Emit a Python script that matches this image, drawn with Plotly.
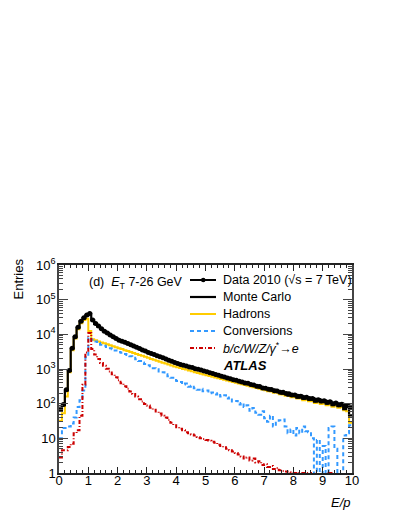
import numpy as np
import plotly.graph_objects as go

# ---------------- data (entries per 0.1 bin of E/p, 0..10) ----------------
BIN_WIDTH = 0.1
N_BINS = 100

data_2010 = [
    70, 95, 250, 900, 4000, 8500, 16000, 24000, 30000, 36000,
    40000, 26000, 20500, 17400, 14500, 12300, 11000, 9550, 8500, 7600,
    6800, 6300, 5900, 5400, 5000, 4600, 4250, 3900, 3550, 3300,
    3000, 2800, 2600, 2400, 2250, 2100, 1950, 1780, 1660, 1550,
    1450, 1350, 1290, 1230, 1150, 1100, 1020, 980, 930, 870,
    830, 780, 740, 690, 660, 620, 590, 550, 525, 490,
    475, 440, 425, 395, 385, 355, 345, 320, 315, 285,
    280, 260, 255, 235, 232, 215, 212, 195, 193, 178,
    178, 165, 165, 150, 152, 140, 142, 128, 130, 120,
    122, 110, 113, 100, 104, 93, 96, 86, 88, 80,
]

monte_carlo = [
    65, 90, 240, 880, 3900, 8300, 15500, 23500, 29500, 35000,
    39000, 25500, 20000, 17000, 14300, 12100, 10900, 9400, 8400, 7500,
    6750, 6250, 5850, 5350, 4950, 4550, 4200, 3850, 3520, 3270,
    2980, 2780, 2580, 2390, 2240, 2090, 1940, 1770, 1650, 1540,
    1440, 1340, 1280, 1220, 1145, 1090, 1015, 975, 925, 865,
    825, 775, 735, 690, 655, 615, 585, 545, 520, 485,
    465, 450, 410, 405, 370, 365, 335, 330, 300, 295,
    270, 270, 240, 250, 220, 215, 195, 205, 170, 185,
    180, 150, 170, 140, 150, 130, 145, 115, 135, 110,
    125, 100, 115, 90, 105, 85, 100, 70, 80, 46,
]

hadrons = [
    32, 53, 160, 800, 3500, 7600, 14000, 21000, 26000, 28000,
    12500, 7200, 6700, 6200, 5850, 5500, 5200, 4850, 4550, 4250,
    3950, 3750, 3500, 3300, 3100, 2900, 2700, 2550, 2400, 2250,
    2100, 1950, 1840, 1720, 1620, 1520, 1430, 1340, 1270, 1190,
    1120, 1060, 1000, 960, 900, 860, 810, 770, 730, 690,
    660, 625, 600, 570, 540, 515, 490, 465, 445, 420,
    400, 380, 365, 345, 330, 315, 300, 285, 270, 255,
    245, 228, 225, 205, 205, 188, 185, 170, 168, 152,
    152, 140, 142, 125, 130, 118, 120, 105, 110, 98,
    102, 90, 95, 82, 88, 76, 80, 65, 60, 28,
]

conversions = [
    10, 20, 20, 22, 27, 40, 80, 125, 240, 2200,
    8000, 7000, 6200, 5600, 5000, 4700, 4300, 4000, 3700, 3400,
    3100, 2950, 2700, 2550, 2350, 2100, 1900, 1700, 1550, 1400,
    1280, 1200, 1050, 980, 850, 800, 700, 620, 560, 480,
    450, 420, 360, 380, 310, 330, 280, 250, 270, 230,
    240, 200, 210, 185, 200, 160, 175, 140, 150, 115,
    120, 95, 105, 80, 90, 62, 75, 55, 48, 60,
    38, 30, 45, 22, 28, 33, 35, 22, 14, 18,
    12, 20, 14, 22, 16, 15, 10, 0, 9, 0,
    6, 0, 20, 22, 5, 0, 0, 12, 14, 24,
]

bcwz = [
    2.8, 4.5, 4.5, 5.6, 7, 14, 17, 45, 350, 3000,
    11000, 3800, 2600, 1950, 1500, 1250, 1020, 850, 700, 580,
    470, 390, 320, 270, 225, 190, 160, 135, 115, 98,
    88, 76, 67, 59, 52, 45, 40, 34, 28, 24,
    21, 19, 17, 15, 14, 13, 12, 11, 10, 9.5,
    9, 8.5, 8, 7.5, 6.5, 6, 5.5, 5, 4.5, 4.2,
    3.8, 3.4, 3, 2.6, 2.8, 2.3, 2.6, 2, 2.2, 1.7,
    1.8, 1.5, 1.6, 1.3, 1.4, 1.2, 1.15, 1.1, 1.05, 1.0,
    1.0, 0, 1.0, 1.0, 0, 1.0, 0, 1.0, 0, 0,
    0, 0, 1.0, 0, 0, 0, 0, 0, 0, 0,
]

x_ticks = list(range(11))
y_tick_vals = [1, 10, 100, 1e3, 1e4, 1e5, 1e6]
y_tick_text = ["1", "10", "10<sup>2</sup>", "10<sup>3</sup>", "10<sup>4</sup>",
               "10<sup>5</sup>", "10<sup>6</sup>"]

legend_labels = ["Data 2010 (√s = 7 TeV)", "Monte Carlo", "Hadrons", "Conversions",
                 "<i>b/c/W/Z/γ</i><sup>*</sup>→<i>e</i>"]

# ---------------- styles ----------------
FONT = "Liberation Sans"
C_BLACK = "#000000"
C_YELLOW = "#FFCC00"
C_BLUE = "#3399FF"
C_RED = "#CC0000"

edges = np.round(np.arange(N_BINS + 1) * BIN_WIDTH, 4)
centers = edges[:-1] + BIN_WIDTH / 2


def step(vals, floor=0.3):
    v = [x if x > 0 else floor for x in vals]
    return list(edges), v + [v[-1]]


fig = go.Figure()

for vals, col, dash, w in [
    (hadrons, C_YELLOW, "solid", 2),
    (conversions, C_BLUE, "4px,3px", 2),
    (bcwz, C_RED, "4px,2px,1px,2px", 2),
    (monte_carlo, C_BLACK, "solid", 2.2),
]:
    xs, ys = step(vals)
    fig.add_trace(go.Scatter(x=xs, y=ys, mode="lines", line_shape="hv",
                             line=dict(color=col, width=w, dash=dash),
                             hoverinfo="skip"))

fig.add_trace(go.Scatter(
    x=centers, y=data_2010, mode="markers",
    marker=dict(color=C_BLACK, size=5),
    error_y=dict(type="data", array=np.sqrt(data_2010), color=C_BLACK,
                 thickness=1, width=0),
))

# ---------------- layout ----------------
L, R, T, B = 59, 47, 265, 43
W, H = 399, 516
PW, PH = W - L - R, H - T - B


def px(x):
    return (x - L) / PW


def py(y):
    return (H - B - y) / PH


minor_y = [k * 10 ** d for d in range(6) for k in range(2, 10)]

fig.update_layout(
    width=W, height=H,
    margin=dict(l=L, r=R, t=T, b=B),
    plot_bgcolor="white", paper_bgcolor="white",
    showlegend=False,
    font=dict(family=FONT, size=13, color="black"),
    xaxis=dict(range=[0, 10], showline=True, linecolor="#222", linewidth=1.5,
               mirror="allticks", ticks="inside", ticklen=6, tickwidth=1,
               tickcolor="#222", tickvals=x_ticks, showgrid=False, zeroline=False,
               tickfont=dict(family=FONT, size=13), ticklabelstandoff=-5,
               minor=dict(ticks="inside", ticklen=3, dtick=0.2, tick0=0,
                          tickcolor="#222", showgrid=False)),
    yaxis=dict(type="log", range=[0, 6], showline=True, linecolor="#444",
               linewidth=1.5, mirror="allticks", ticks="inside", ticklen=9,
               tickwidth=1, tickcolor="#444", tickvals=y_tick_vals,
               ticktext=y_tick_text, showgrid=False, zeroline=False,
               tickfont=dict(family=FONT, size=13), ticklabelstandoff=-1,
               minor=dict(ticks="inside", ticklen=4.5, tickmode="array",
                          tickvals=minor_y, tickcolor="#444", showgrid=False)),
)

ann = []
ann.append(dict(text="Entries", x=px(18), y=py(257), xref="paper", yref="paper",
                textangle=-90, xanchor="center", yanchor="top", showarrow=False,
                font=dict(size=13)))
ann.append(dict(text="<i>E/p</i>", x=px(353), y=py(502), xref="paper", yref="paper",
                xanchor="right", yanchor="middle", showarrow=False,
                font=dict(size=13)))
ann.append(dict(text="(d)  <i>E</i><sub>T</sub> 7-26 GeV", x=px(87), y=py(283),
                xref="paper", yref="paper", xanchor="left", yanchor="middle",
                showarrow=False, font=dict(size=12.5)))

shapes = []
leg_y = [280, 297, 314, 331, 348]
leg_styles = [(C_BLACK, "solid", 2), (C_BLACK, "solid", 2.2), (C_YELLOW, "solid", 2),
              (C_BLUE, "4px,3px", 2), (C_RED, "4px,2px,1px,2px", 2)]
for lab, yy, (col, dash, w) in zip(legend_labels, leg_y, leg_styles):
    ann.append(dict(text=lab, x=px(221), y=py(yy), xref="paper", yref="paper",
                    xanchor="left", yanchor="middle", showarrow=False,
                    font=dict(size=12.5)))
    shapes.append(dict(type="line", xref="paper", yref="paper",
                       x0=px(190), x1=px(216), y0=py(yy), y1=py(yy),
                       line=dict(color=col, width=w, dash=dash)))
shapes.append(dict(type="circle", xref="paper", yref="paper",
                   x0=px(201), x1=px(205.5), y0=py(282.2), y1=py(277.8),
                   fillcolor=C_BLACK, line=dict(color=C_BLACK, width=0)))
ann.append(dict(text="<b><i>ATLAS</i></b>", x=px(221), y=py(365), xref="paper",
                yref="paper", xanchor="left", yanchor="middle", showarrow=False,
                font=dict(size=13)))

fig.update_layout(annotations=ann, shapes=shapes)
fig.write_html(
    "out.html",
    config={"displayModeBar": False},
    post_script="document.body.style.margin='0';document.body.style.padding='0';"
                "document.documentElement.style.overflow='hidden';",
)
